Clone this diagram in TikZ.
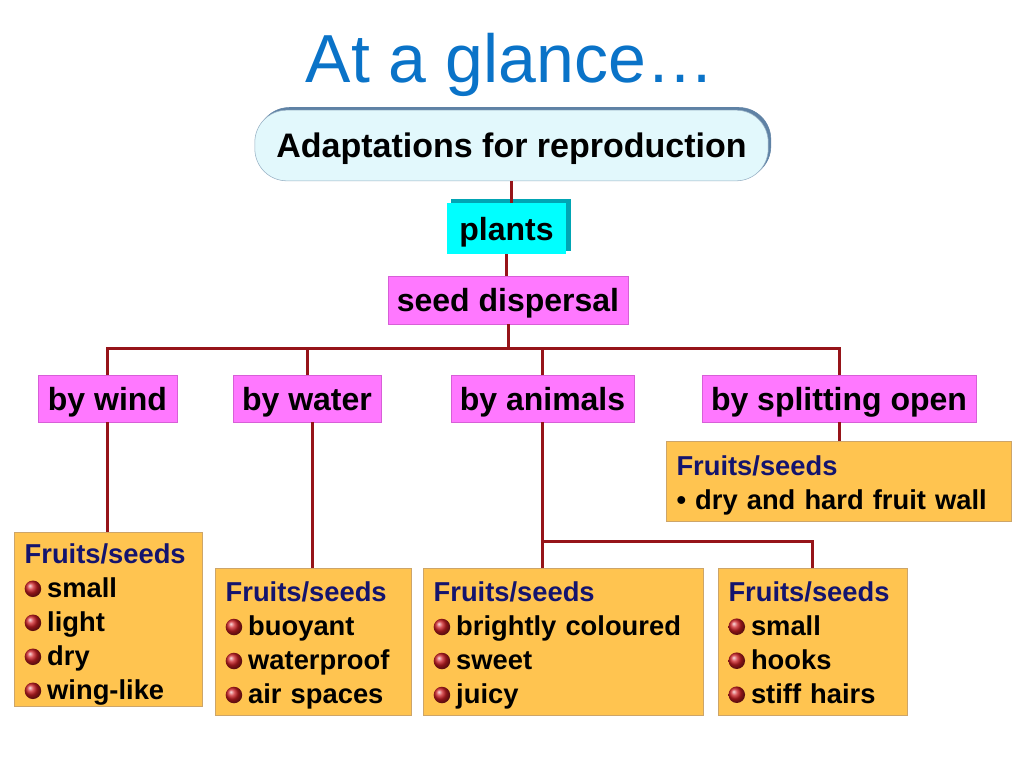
\documentclass[tikz,border=0pt]{standalone}
\usepackage{fontspec}
\setmainfont{Liberation Sans}
\usetikzlibrary{shadows}

\definecolor{titleblue}{RGB}{10,115,200}
\definecolor{topfill}{RGB}{226,248,252}
\definecolor{topline}{RGB}{150,175,195}
\definecolor{topshade}{RGB}{95,130,165}
\definecolor{plantfill}{RGB}{0,255,255}
\definecolor{plantshade}{RGB}{0,165,180}
\definecolor{pinkfill}{RGB}{255,120,255}
\definecolor{pinkline}{RGB}{215,95,215}
\definecolor{orfill}{RGB}{255,196,80}
\definecolor{orline}{RGB}{205,165,105}
\definecolor{navy}{RGB}{20,20,110}
\definecolor{linkred}{RGB}{150,20,25}
\definecolor{bulred}{RGB}{205,30,35}

\newcommand\fbul{\tikz[x=1cm, y=1cm, baseline=-0.6ex]\shade[ball color=bulred] (0,0) circle[radius=6.2pt];\hspace{4.5pt}}
\newcommand\fhead[1][21pt]{\rule{0pt}{#1}\textcolor{navy}{Fruits/seeds}}

\begin{document}
\begin{tikzpicture}[x=0.75pt, y=-0.75pt,
  lbl/.style={draw=pinkline, fill=pinkfill, font=\bfseries\fontsize{24}{28}\selectfont, minimum height=35pt, inner sep=0pt, text depth=0pt},
  fruit/.style={draw=orline, fill=orfill, font=\bfseries\fontsize{20.5}{25.5}\selectfont, align=left, inner xsep=8pt, inner ysep=3pt},
  link/.style={draw=linkred, line width=2.25pt}]
			\useasboundingbox (0,0) rectangle (1024,768);
			
			\node[anchor=base, text=titleblue, font=\fontsize{51}{56}\selectfont] (title) at (510,82) {At a glance…};
			\node[draw=topline, fill=topfill, rounded corners=24pt, minimum width=385pt, minimum height=53pt, text depth=0pt, font=\bfseries\fontsize{25.5}{30}\selectfont, copy shadow={shadow xshift=2pt, shadow yshift=2pt, fill=topshade, draw=topshade}] (top) at (511.5,145.5) {Adaptations for reproduction};
			\node[fill=plantfill, minimum width=89pt, minimum height=38pt, text depth=0pt, font=\bfseries\fontsize{24}{28}\selectfont, copy shadow={shadow xshift=3pt, shadow yshift=3pt, fill=plantshade, draw=plantshade}] (plants) at (506.5,228.5) {plants};
			\node[lbl, minimum width=180pt, minimum height=36pt] (seed) at (508,300) {seed dispersal};
			
			\node[lbl, minimum width=104pt] (wind) at (107.5,398.5) {by wind};
			\node[lbl, minimum width=111pt] (water) at (307,398.5) {by water};
			\node[lbl, minimum width=137pt] (animals) at (542.5,398.5) {by animals};
			\node[lbl, minimum width=205.5pt] (split) at (839,398.5) {by splitting open};
			
			\node[fruit, inner ysep=0pt, text width=125pt, minimum height=130.5pt] (windfruit) at (108,619) {\fhead[23pt]\\\fbul small\\\fbul light\\\fbul dry\\\fbul wing-like};
			\node[fruit, text width=131pt, minimum height=110pt] (waterfruit) at (313,641.5) {\fhead\\\fbul buoyant\\\fbul waterproof\\\fbul air spaces};
			\node[fruit, text width=194pt, minimum height=110pt] (animalfruit) at (563,641.5) {\fhead\\\fbul brightly coloured\\\fbul sweet\\\fbul juicy};
			\node[fruit, text width=126pt, minimum height=110pt] (hookfruit) at (812.5,641.5) {\fhead[16.5pt]\\\fbul small\\\fbul hooks\\\fbul stiff hairs};
			\node[fruit, text width=243pt, minimum height=60pt] (splitfruit) at (838.5,481) {\fhead\\• dry and hard fruit wall};
			
			\coordinate (bus) at (508,348);
			\coordinate (fork) at (543,541);
			
			\draw[link] (top.south) -- (top.south |- plants.north);
			\draw[link] (plants.south) -- (plants.south |- seed.north);
			\draw[link] (seed.south) -- (bus);
			\draw[link] (wind.north) |- (bus) -| (split.north);
			\draw[link] (water.north) -- (water.north |- bus);
			\draw[link] (animals.north) -- (animals.north |- bus);
			\draw[link] (wind.south) -- (wind.south |- windfruit.north);
			\draw[link] (water.south) ++(5,0) -- (312,568);
			\draw[link] (animals.south) -- (animals.south |- animalfruit.north);
			\draw[link] (fork) -| (hookfruit.north);
			\draw[link] (split.south) -- (split.south |- splitfruit.north);
		\end{tikzpicture}
\end{document}
